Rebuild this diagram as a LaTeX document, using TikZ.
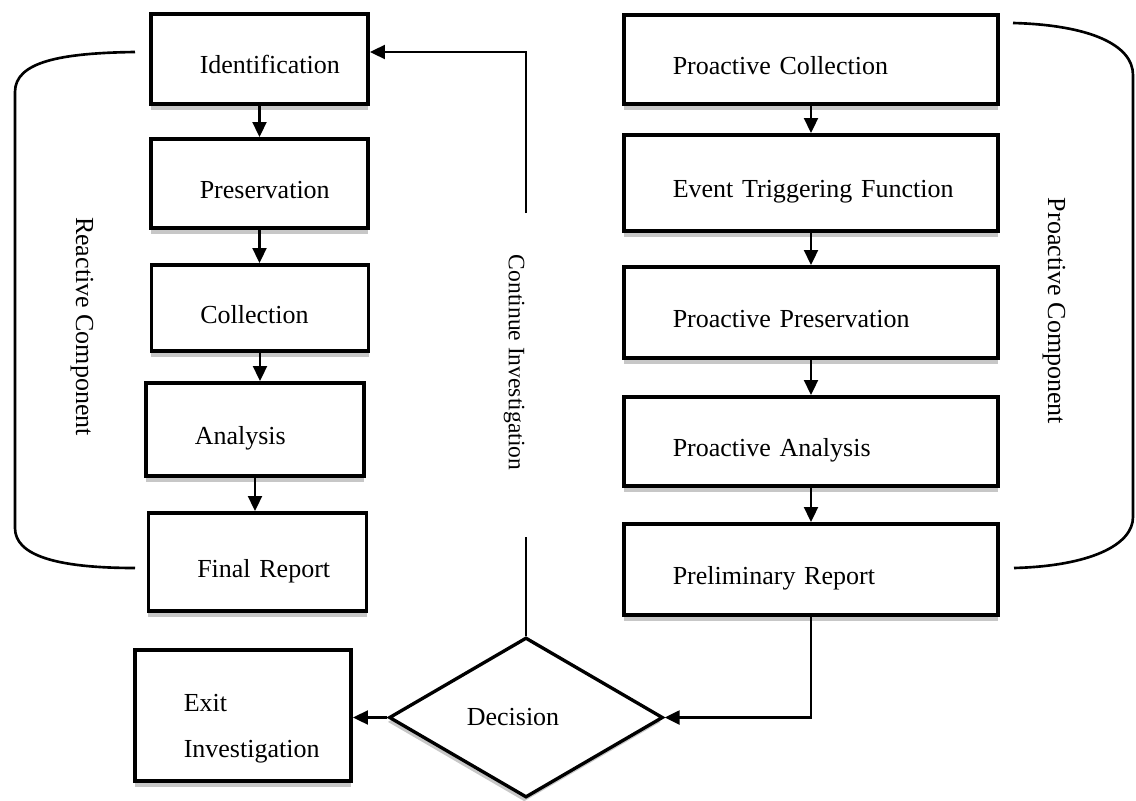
\documentclass[tikz,border=0pt]{standalone}
\usepackage{fontspec}
\setmainfont{Liberation Serif}
\usetikzlibrary{arrows.meta,shapes.geometric,shadows}

\begin{document}
\begin{tikzpicture}[x=0.02cm,y=-0.02cm,>={Triangle[length=0.3cm,width=0.28cm]},
    font=\fontsize{14.8}{26.7}\selectfont,
    stage/.style={draw,fill=white,line width=2pt,align=left,inner xsep=0.2cm,
      text height=0.7cm,text depth=0.1cm,
      execute at begin node={\leftskip=0.78cm},
      drop shadow={shadow xshift=0pt,shadow yshift=-3.5pt,fill=black!22,opacity=1}},
    decision/.style={diamond,draw,fill=white,line width=1.9pt,
      minimum width=5.48cm,minimum height=3.2cm,
      drop shadow={shadow xshift=-1pt,shadow yshift=-2.5pt,fill=black!22,opacity=1}},
    flow/.style={line width=1.3pt},
    bracket/.style={line width=1.5pt},
    side/.style={rotate=-90}]
      \useasboundingbox (0,0) rectangle (1136,801);

      % reactive side
      \node[stage,text width=3.95cm,minimum height=1.81cm] (ident) at (259.5,59) {Identification};
      \node[stage,text width=3.95cm,minimum height=1.79cm] (preserv) at (259.5,183.5) {Preservation};
      \node[stage,text width=3.95cm,minimum height=1.73cm] (collect) at (260,308) {Collection};
      \node[stage,text width=3.97cm,minimum height=1.87cm] (analysis) at (255,429.5) {Analysis};
      \node[stage,text width=3.97cm,minimum height=1.97cm] (final) at (257.5,562) {Final Report};
      \node[stage,text width=3.93cm,minimum height=2.63cm,text height=0.88cm,text depth=1.06cm]
        (exit) at (243,715.5) {Exit\\Investigation};

      % proactive side
      \node[stage,text width=7.09cm,minimum height=1.79cm] (pcollect) at (811,59.5) {Proactive Collection};
      \node[stage,text width=7.09cm,minimum height=1.93cm] (trigger) at (811,183) {Event Triggering Function};
      \node[stage,text width=7.09cm,minimum height=1.83cm] (ppreserv) at (811,312.5) {Proactive Preservation};
      \node[stage,text width=7.09cm,minimum height=1.79cm] (panalysis) at (811,441.5) {Proactive Analysis};
      \node[stage,text width=7.09cm,minimum height=1.83cm] (prelim) at (811,569.5) {Preliminary Report};

      \node[decision] (dec) at (526,717.5) {Decision\kern0.52cm};

      \node[side] (reactive) at (82,326.5) {Reactive Component};
      \node[side] (proactive) at (1054,311) {Proactive Component};
      \node[side,font=\fontsize{13.4}{16}\selectfont] (cont) at (514,362.5) {Continue Investigation};

      \path[flow,->]
      (ident.south) edge (ident.south |- preserv.north)
      (preserv.south) edge (preserv.south |- collect.north)
      (collect.south) edge (collect.south |- analysis.north)
      (analysis.south) edge (analysis.south |- final.north)

      (pcollect.south) edge (pcollect.south |- trigger.north)
      (trigger.south) edge (trigger.south |- ppreserv.north)
      (ppreserv.south) edge (ppreserv.south |- panalysis.north)
      (panalysis.south) edge (panalysis.south |- prelim.north)
      ;

      \draw[flow,->] (prelim.south) |- (dec.east);
      \draw[flow,->] (dec.west) -- (dec.west -| exit.east);

      % loop back, broken round the label
      \coordinate (gaplo) at (526,537);
      \coordinate (gaphi) at (526,213);
      \coordinate (turn) at (526,52);
      \draw[flow] (dec.north) -- (gaplo);
      \draw[flow,->] (gaphi) -- (turn) -- (turn -| ident.east);

      % brackets
      \draw[bracket] (135,52) .. controls (60,53) and (15,62) .. (15,92) -- (15,528)
        .. controls (15,555) and (55,568) .. (135,568);
      \draw[bracket] (1013,23) .. controls (1090,25) and (1133,45) .. (1133,75) -- (1133,517)
        .. controls (1133,545) and (1090,566) .. (1014,568);
    \end{tikzpicture}
\end{document}
